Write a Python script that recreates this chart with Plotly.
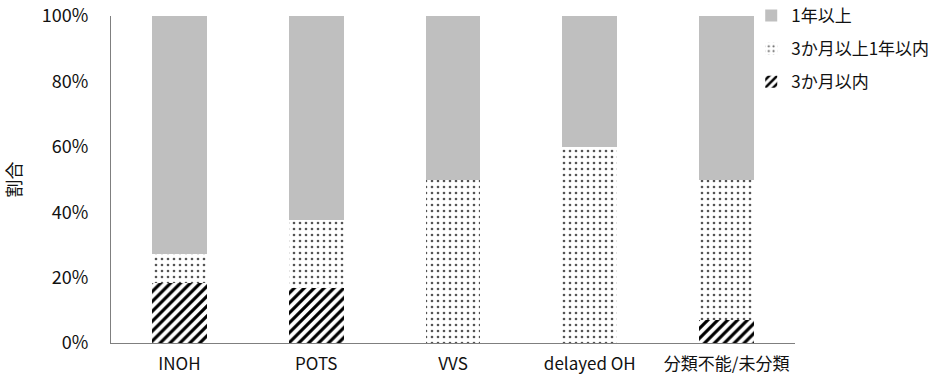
import plotly.graph_objects as go

categories = ["INOH", "POTS", "VVS", "delayed OH", "分類不能/未分類"]
within_3m = [18.2, 16.7, 0, 0, 7.1]
m3_to_1y = [9.1, 20.8, 50, 60, 42.9]
over_1y = [72.7, 62.5, 50, 40, 50]
y_ticks = [0, 20, 40, 60, 80, 100]
y_tick_labels = ["0%", "20%", "40%", "60%", "80%", "100%"]

FONT = "Noto Sans CJK JP, Noto Sans, sans-serif"

fig = go.Figure()
fig.add_trace(go.Bar(
    name="3か月以内", x=categories, y=within_3m, legendgroup="a", legendrank=3,
    marker=dict(color="white", line=dict(width=0),
                pattern=dict(shape="/", fgcolor="black", bgcolor="white",
                             size=7, solidity=0.45, fillmode="replace")),
))
fig.add_trace(go.Bar(
    name="3か月以上1年以内", x=categories, y=m3_to_1y, legendgroup="b", legendrank=2,
    marker=dict(color="white", line=dict(width=0),
                pattern=dict(shape=".", fgcolor="#555555", bgcolor="white",
                             size=6, solidity=0.15, fillmode="replace")),
))
fig.add_trace(go.Bar(
    name="1年以上", x=categories, y=over_1y, legendgroup="c", legendrank=1,
    marker=dict(color="#bfbfbf", line=dict(width=0)),
))

fig.update_layout(
    barmode="stack",
    bargap=0.6,
    width=944, height=385,
    margin=dict(l=111, r=149, t=16, b=42, autoexpand=False),
    paper_bgcolor="white", plot_bgcolor="white",
    font=dict(family=FONT, size=18, color="#111111"),
    legend=dict(traceorder="grouped", x=0.936, y=1.055, xanchor="left", yanchor="top",
                font=dict(size=17, family=FONT, color="#111111"), itemwidth=30,
                tracegroupgap=8, bgcolor="rgba(0,0,0,0)"),
    xaxis=dict(showline=True, linecolor="#7f7f7f", linewidth=1, ticks="",
               showgrid=False, tickfont=dict(size=17), automargin=False,
               ticklabelstandoff=6),
    yaxis=dict(range=[0, 100], tickvals=y_ticks, ticktext=y_tick_labels,
               showline=True, linecolor="#7f7f7f", linewidth=1, ticks="",
               showgrid=False, zeroline=False, ticklabelstandoff=18, automargin=False,
               tickfont=dict(size=18),
               title=dict(text="割合", standoff=20, font=dict(size=18))),
)

fig.write_html("out.html")
